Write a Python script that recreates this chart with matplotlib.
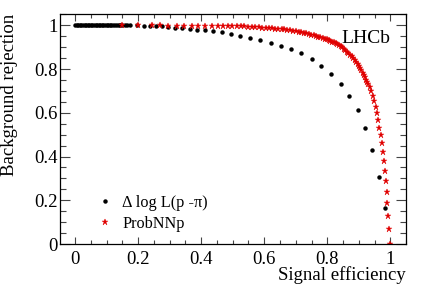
import matplotlib
matplotlib.use("Agg")
import matplotlib.pyplot as plt
from matplotlib.ticker import MultipleLocator

plt.rcParams["font.family"] = ["Liberation Serif", "DejaVu Serif"]

# Delta log L(p - pi) working points (signal efficiency, background rejection)
dll_eff = [0.000, 0.005, 0.010, 0.015, 0.020, 0.025, 0.030, 0.035, 0.040, 0.045,
           0.050, 0.055, 0.060, 0.065, 0.070, 0.075, 0.080, 0.085, 0.090, 0.095,
           0.100, 0.105, 0.110, 0.115, 0.120, 0.126, 0.132, 0.138, 0.143, 0.149,
           0.157, 0.166, 0.175, 0.196, 0.217, 0.238, 0.257, 0.277, 0.296, 0.317,
           0.340, 0.363, 0.388, 0.413, 0.439, 0.466, 0.494, 0.524, 0.556, 0.587,
           0.620, 0.653, 0.686, 0.717, 0.750, 0.781, 0.813, 0.843, 0.870, 0.896,
           0.920, 0.942, 0.963, 0.983]
dll_rej = [1.000, 1.000, 1.000, 1.000, 1.000, 1.000, 1.000, 1.000, 1.000, 1.000,
           1.000, 1.000, 1.000, 1.000, 1.000, 1.000, 1.000, 1.000, 1.000, 1.000,
           1.000, 1.000, 1.000, 1.000, 1.000, 1.000, 1.000, 1.000, 1.000, 1.000,
           1.000, 1.000, 1.000, 1.000, 0.999, 0.999, 0.998, 0.995, 0.993, 0.990,
           0.987, 0.983, 0.980, 0.977, 0.973, 0.968, 0.960, 0.952, 0.943, 0.934,
           0.920, 0.906, 0.890, 0.872, 0.845, 0.814, 0.777, 0.732, 0.678, 0.613,
           0.529, 0.430, 0.308, 0.163]

# ProbNNp working points
nn_eff = [0.150, 0.200, 0.244, 0.270, 0.296, 0.322, 0.347, 0.370, 0.390, 0.412,
          0.433, 0.453, 0.470, 0.485, 0.499, 0.512, 0.525, 0.537, 0.549, 0.561,
          0.572, 0.583, 0.594, 0.605, 0.615, 0.625, 0.635, 0.645, 0.655, 0.664,
          0.673, 0.682, 0.691, 0.700, 0.709, 0.717, 0.725, 0.733, 0.741, 0.749,
          0.757, 0.764, 0.771, 0.778, 0.785, 0.792, 0.798, 0.804, 0.810, 0.816,
          0.822, 0.827, 0.832, 0.837, 0.842, 0.847, 0.852, 0.857, 0.862, 0.867,
          0.872, 0.877, 0.882, 0.887, 0.892, 0.896, 0.900, 0.904, 0.908, 0.912,
          0.916, 0.920, 0.924, 0.927, 0.930, 0.934, 0.940, 0.944, 0.948, 0.953,
          0.957, 0.960, 0.965, 0.969, 0.973, 0.977, 0.980, 0.983, 0.985, 0.988,
          0.990, 0.994, 0.996, 0.999]
nn_rej = [1.000, 1.000, 1.000, 1.000, 0.999, 0.999, 0.999, 0.999, 0.999, 0.998,
          0.998, 0.998, 0.997, 0.997, 0.996, 0.996, 0.995, 0.995, 0.994, 0.993,
          0.992, 0.991, 0.990, 0.989, 0.988, 0.987, 0.985, 0.984, 0.982, 0.981,
          0.979, 0.977, 0.975, 0.972, 0.970, 0.968, 0.966, 0.963, 0.960, 0.957,
          0.954, 0.951, 0.948, 0.945, 0.942, 0.939, 0.936, 0.933, 0.930, 0.926,
          0.922, 0.918, 0.914, 0.909, 0.904, 0.899, 0.893, 0.887, 0.880, 0.873,
          0.866, 0.858, 0.850, 0.841, 0.832, 0.823, 0.814, 0.804, 0.794, 0.784,
          0.773, 0.762, 0.750, 0.740, 0.730, 0.720, 0.700, 0.677, 0.652, 0.625,
          0.598, 0.566, 0.532, 0.497, 0.460, 0.422, 0.378, 0.335, 0.289, 0.239,
          0.186, 0.128, 0.069, 0.000]

fig = plt.figure(figsize=(4.27, 2.91), dpi=100)
ax = fig.add_axes([0.1405, 0.1615, 0.8105, 0.7905])

ax.plot(dll_eff, dll_rej, linestyle="none", marker="o", markersize=3.2,
        color="black", markeredgewidth=0, label="Δ log L(p -π)")
ax.plot(nn_eff, nn_rej, linestyle="none", marker="*", markersize=5.0,
        color="#e00000", markeredgewidth=0.3, label="ProbNNp")

ax.set_xlim(-0.048, 1.05)
ax.set_ylim(0, 1.052)

ax.xaxis.set_major_locator(MultipleLocator(0.2))
ax.xaxis.set_minor_locator(MultipleLocator(0.05))
ax.yaxis.set_major_locator(MultipleLocator(0.2))
ax.yaxis.set_minor_locator(MultipleLocator(0.05))
ax.set_xticks([0, 0.2, 0.4, 0.6, 0.8, 1.0], ["0", "0.2", "0.4", "0.6", "0.8", "1"])
ax.set_yticks([0, 0.2, 0.4, 0.6, 0.8, 1.0], ["0", "0.2", "0.4", "0.6", "0.8", "1"])

ax.tick_params(which="both", direction="in", top=True, right=True, labelsize=13.5,
               width=0.8, color="#444444")
ax.tick_params(axis="x", which="major", length=5, pad=5)
ax.tick_params(axis="x", which="minor", length=3)
ax.tick_params(axis="y", which="major", length=7.5, pad=1.5)
ax.tick_params(axis="y", which="minor", length=4)
for s in ax.spines.values():
    s.set_linewidth(0.9)

ax.set_xlabel("Signal efficiency", fontsize=13.5, loc="right", labelpad=-1)
ax.set_ylabel("Background rejection", fontsize=13.5, loc="top")
ax.yaxis.set_label_coords(-0.122, 1.0)

ax.text(0.955, 0.895, "LHCb", transform=ax.transAxes, fontsize=14,
        ha="right", va="center")

ax.legend(loc="lower left", bbox_to_anchor=(0.063, -0.01), frameon=False,
          fontsize=11.7, handlelength=1.0, handletextpad=0.6, labelspacing=0.3,
          markerscale=1.0)

fig.savefig("out.png", dpi=100)
